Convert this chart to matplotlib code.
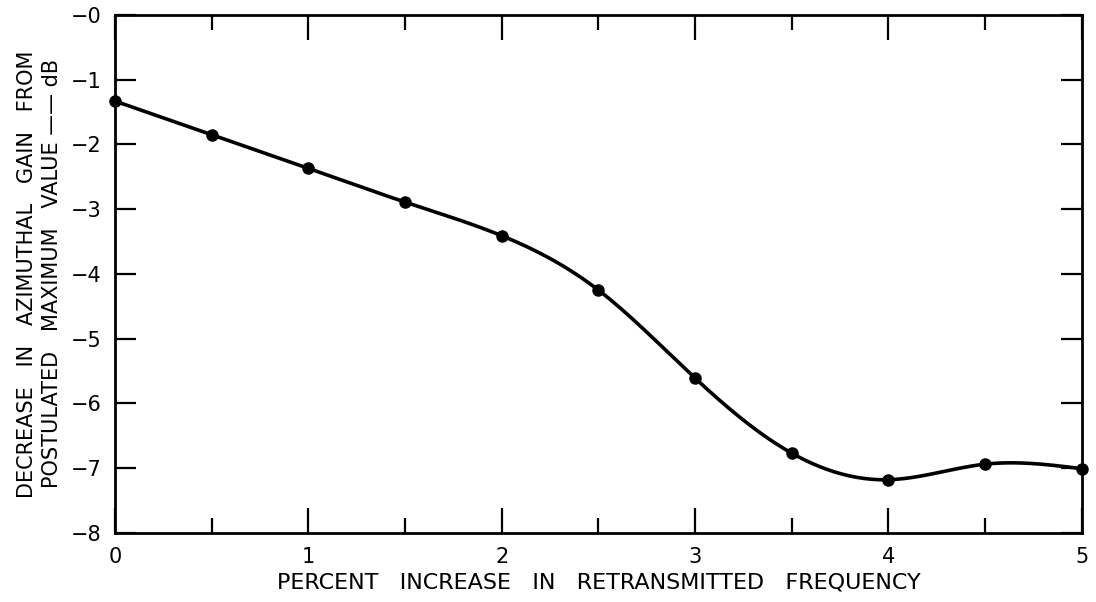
import numpy as np
import matplotlib.pyplot as plt

# percent increase in retransmitted frequency
freq_pct = [0.0, 0.5, 1.0, 1.5, 2.0, 2.5, 3.0, 3.5, 4.0, 4.5, 5.0]
# decrease in azimuthal gain, dB
gain_db = [-1.33, -1.85, -2.37, -2.89, -3.41, -4.25, -5.61, -6.77, -7.18, -6.94, -7.01]

x_major = [0, 1, 2, 3, 4, 5]
x_labels = ["0", "1", "2", "3", "4", "5"]
x_minor = [0.5, 1.5, 2.5, 3.5, 4.5]
y_ticks = [0, -1, -2, -3, -4, -5, -6, -7, -8]
y_labels = ["\u22120", "\u22121", "\u22122", "\u22123", "\u22124",
            "\u22125", "\u22126", "\u22127", "\u22128"]


def natural_spline(x, y, xs):
    x = np.asarray(x, float)
    y = np.asarray(y, float)
    n = len(x)
    h = np.diff(x)
    A = np.zeros((n, n))
    b = np.zeros(n)
    A[0, 0] = A[-1, -1] = 1.0
    for i in range(1, n - 1):
        A[i, i - 1] = h[i - 1]
        A[i, i] = 2 * (h[i - 1] + h[i])
        A[i, i + 1] = h[i]
        b[i] = 6 * ((y[i + 1] - y[i]) / h[i] - (y[i] - y[i - 1]) / h[i - 1])
    m = np.linalg.solve(A, b)
    idx = np.clip(np.searchsorted(x, xs) - 1, 0, n - 2)
    x0, x1 = x[idx], x[idx + 1]
    hh = x1 - x0
    t0, t1 = x1 - xs, xs - x0
    return (m[idx] * t0**3 / (6 * hh) + m[idx + 1] * t1**3 / (6 * hh)
            + (y[idx] / hh - m[idx] * hh / 6) * t0
            + (y[idx + 1] / hh - m[idx + 1] * hh / 6) * t1)


plt.rcParams["font.family"] = ["DejaVu Sans"]

fig = plt.figure(figsize=(10.96, 6.02), dpi=100)
ax = fig.add_axes([0.105, 0.115, 0.882, 0.86])

xs = np.linspace(freq_pct[0], freq_pct[-1], 400)
ax.plot(xs, natural_spline(freq_pct, gain_db, xs), color="black", lw=2.6,
        solid_capstyle="round")
ax.plot(freq_pct, gain_db, "o", color="black", ms=8, clip_on=False, zorder=3)

ax.set_xlim(0, 5)
ax.set_ylim(-8, 0)
ax.set_xticks(x_major)
ax.set_xticklabels(x_labels)
ax.set_xticks(x_minor, minor=True)
ax.set_yticks(y_ticks)
ax.set_yticklabels(y_labels)

for s in ax.spines.values():
    s.set_linewidth(2.0)

ax.tick_params(axis="x", which="major", direction="in", length=18, width=1.6,
               top=True, labelsize=15, pad=10)
ax.tick_params(axis="x", which="minor", direction="in", length=11, width=1.6,
               top=True)
ax.tick_params(axis="y", which="major", direction="in", length=15, width=1.6,
               right=True, labelsize=15, pad=10)

ax.set_xlabel("PERCENT   INCREASE   IN   RETRANSMITTED   FREQUENCY",
              fontsize=16, labelpad=4)
ax.set_ylabel("DECREASE   IN   AZIMUTHAL   GAIN   FROM\n"
              "POSTULATED   MAXIMUM   VALUE \u2014\u2014 dB",
              fontsize=15, labelpad=6, linespacing=1.3)

fig.savefig("out.png", dpi=100)
